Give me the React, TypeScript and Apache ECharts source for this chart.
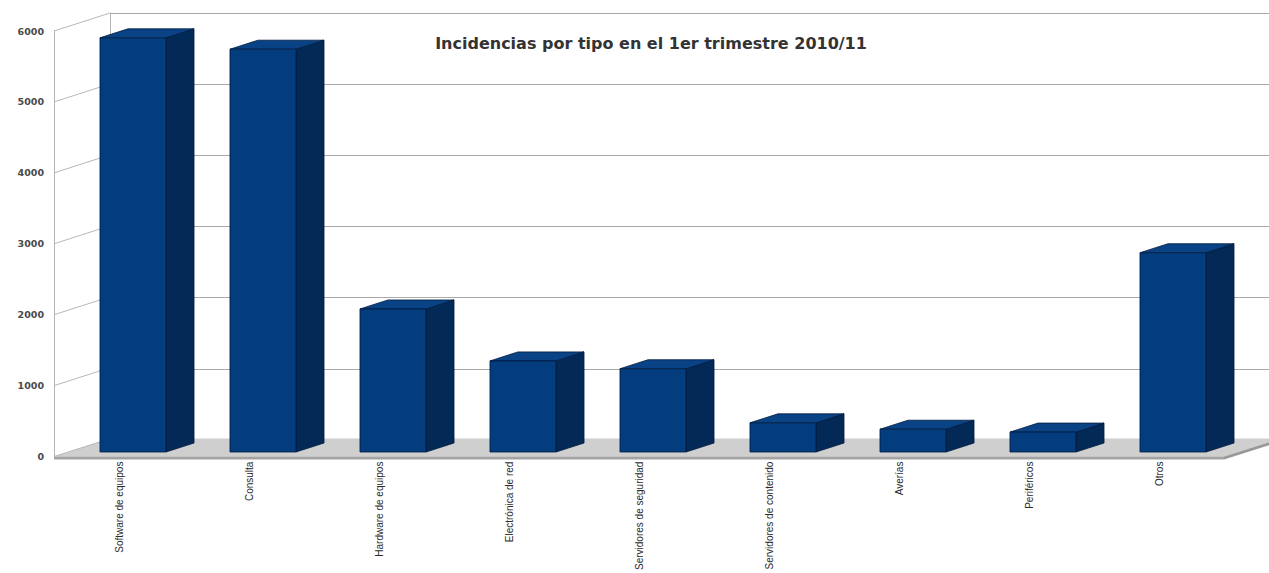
import React, { useEffect, useRef } from "react";
import * as echarts from "echarts";

// Incident categories and counts for the first quarter
const categories = [
  "Software de equipos",
  "Consulta",
  "Hardware de equipos",
  "Electrónica de red",
  "Servidores de seguridad",
  "Servidores de contenido",
  "Averías",
  "Periféricos",
  "Otros",
];
const incidents = [5820, 5660, 2010, 1280, 1170, 410, 320, 280, 2800];

// Value axis range
const yMin = 0;
const yMax = 6000;
const yStep = 1000;
const yTicks = [0, 1000, 2000, 3000, 4000, 5000, 6000];

const title = "Incidencias por tipo en el 1er trimestre 2010/11";

// Projection of the depth direction (front plane -> back wall)
const DEPTH_X = 56;
const DEPTH_Y = -18;
// Projection of a single bar's depth
const BAR_DEPTH_X = 28;
const BAR_DEPTH_Y = -9;

const FRONT = "#033d7d";
const SIDE = "#032a56";
const TOP = "#0a4286";
const EDGE = "#001b3e";

export default function App() {
  const ref = useRef<HTMLDivElement>(null);

  useEffect(() => {
    if (!ref.current) return;
    const chart = echarts.init(ref.current, undefined, { renderer: "svg" });

    const valueAxisBase = {
      type: "value" as const,
      min: yMin,
      max: yMax,
      interval: yStep,
    };

    chart.setOption({
      animation: false,
      backgroundColor: "#ffffff",
      title: {
        text: title,
        left: 646,
        top: 30,
        textAlign: "center",
        textStyle: {
          fontFamily: "DejaVu Sans",
          fontWeight: "bold",
          fontSize: 16,
          color: "#333333",
        },
      },
      grid: [
        // back wall
        { left: 110, top: 13, width: 1170, height: 427 },
        // front plane (axis labels)
        { left: 54, top: 31, width: 1170, height: 427 },
        // bar front plane
        { left: 68, top: 25, width: 1170, height: 427 },
      ],
      xAxis: [
        { type: "category", gridIndex: 0, data: categories, show: false },
        {
          type: "category",
          gridIndex: 1,
          data: categories,
          axisLine: { show: false },
          axisTick: { show: false },
          axisLabel: {
            interval: 0,
            rotate: 90,
            margin: 5,
            fontFamily: "Liberation Sans",
            fontSize: 10,
            color: "#2a2a2a",
          },
        },
        { type: "category", gridIndex: 2, data: categories, show: false },
      ],
      yAxis: [
        {
          ...valueAxisBase,
          gridIndex: 0,
          axisLine: { show: true, lineStyle: { color: "#b4b4b4", width: 1 } },
          axisTick: { show: false },
          axisLabel: { show: false },
          splitLine: { show: true, lineStyle: { color: "#a9a9a9", width: 1 } },
        },
        {
          ...valueAxisBase,
          gridIndex: 1,
          axisLine: { show: true, lineStyle: { color: "#b4b4b4", width: 1 } },
          axisTick: { show: false },
          splitLine: { show: false },
          axisLabel: {
            margin: 10,
            fontFamily: "DejaVu Sans",
            fontWeight: "bold",
            fontSize: 9.5,
            color: "#4a4a4a",
            formatter: (v: number) => String(v),
          },
        },
        { ...valueAxisBase, gridIndex: 2, show: false, splitLine: { show: false } },
      ],
      series: [
        {
          // floor slab
          type: "custom",
          xAxisIndex: 1,
          yAxisIndex: 1,
          clip: false,
          z: 1,
          data: [[0, 0]],
          renderItem: (params: any, api: any) => {
            const cs = params.coordSys;
            const yb = api.coord([0, yMin])[1];
            const xl = cs.x;
            const xr = cs.x + cs.width;
            const t = 3;
            return {
              type: "group",
              children: [
                {
                  type: "polygon",
                  shape: {
                    points: [
                      [xl, yb],
                      [xr, yb],
                      [xr + DEPTH_X, yb + DEPTH_Y],
                      [xl + DEPTH_X, yb + DEPTH_Y],
                    ],
                  },
                  style: { fill: "#cfcfcf", stroke: "none" },
                },
                {
                  type: "rect",
                  shape: { x: xl, y: yb, width: xr - xl, height: t },
                  style: { fill: "#a3a3a3" },
                },
                {
                  type: "polygon",
                  shape: {
                    points: [
                      [xr, yb],
                      [xr + DEPTH_X, yb + DEPTH_Y],
                      [xr + DEPTH_X, yb + DEPTH_Y + t],
                      [xr, yb + t],
                    ],
                  },
                  style: { fill: "#999999" },
                },
              ],
            };
          },
        },
        {
          // left side wall lines joining the front ticks to the back grid
          type: "custom",
          xAxisIndex: 1,
          yAxisIndex: 1,
          clip: false,
          z: 2,
          data: yTicks.map((v) => [0, v]),
          renderItem: (params: any, api: any) => {
            const x = params.coordSys.x;
            const y = api.coord([0, api.value(1)])[1];
            return {
              type: "line",
              shape: { x1: x, y1: y, x2: x + DEPTH_X, y2: y + DEPTH_Y },
              style: { stroke: "#b8b8b8", lineWidth: 1 },
            };
          },
        },
        {
          // 3D bars
          type: "custom",
          name: "Incidencias",
          xAxisIndex: 2,
          yAxisIndex: 2,
          clip: false,
          z: 3,
          data: incidents.map((v, i) => [i, v]),
          encode: { x: 0, y: 1 },
          renderItem: (params: any, api: any) => {
            const i = api.value(0);
            const v = api.value(1);
            const base = api.coord([i, 0]);
            const top = api.coord([i, v]);
            const band = api.size([1, 0])[0];
            const hw = band * 0.254;
            const x0 = base[0] - hw;
            const x1 = base[0] + hw;
            const yb = base[1];
            const yt = top[1];
            const dx = BAR_DEPTH_X;
            const dy = BAR_DEPTH_Y;
            return {
              type: "group",
              children: [
                {
                  type: "polygon",
                  shape: {
                    points: [
                      [x1, yb],
                      [x1, yt],
                      [x1 + dx, yt + dy],
                      [x1 + dx, yb + dy],
                    ],
                  },
                  style: { fill: SIDE, stroke: EDGE, lineWidth: 0.8 },
                },
                {
                  type: "polygon",
                  shape: {
                    points: [
                      [x0, yt],
                      [x1, yt],
                      [x1 + dx, yt + dy],
                      [x0 + dx, yt + dy],
                    ],
                  },
                  style: { fill: TOP, stroke: EDGE, lineWidth: 0.8 },
                },
                {
                  type: "rect",
                  shape: { x: x0, y: yt, width: x1 - x0, height: yb - yt },
                  style: { fill: FRONT, stroke: EDGE, lineWidth: 0.8 },
                },
              ],
            };
          },
        },
      ],
    });

    return () => chart.dispose();
  }, []);

  return (
    <div
      ref={ref}
      style={{ position: "fixed", left: 0, top: 0, width: 1269, height: 573 }}
    />
  );
}
